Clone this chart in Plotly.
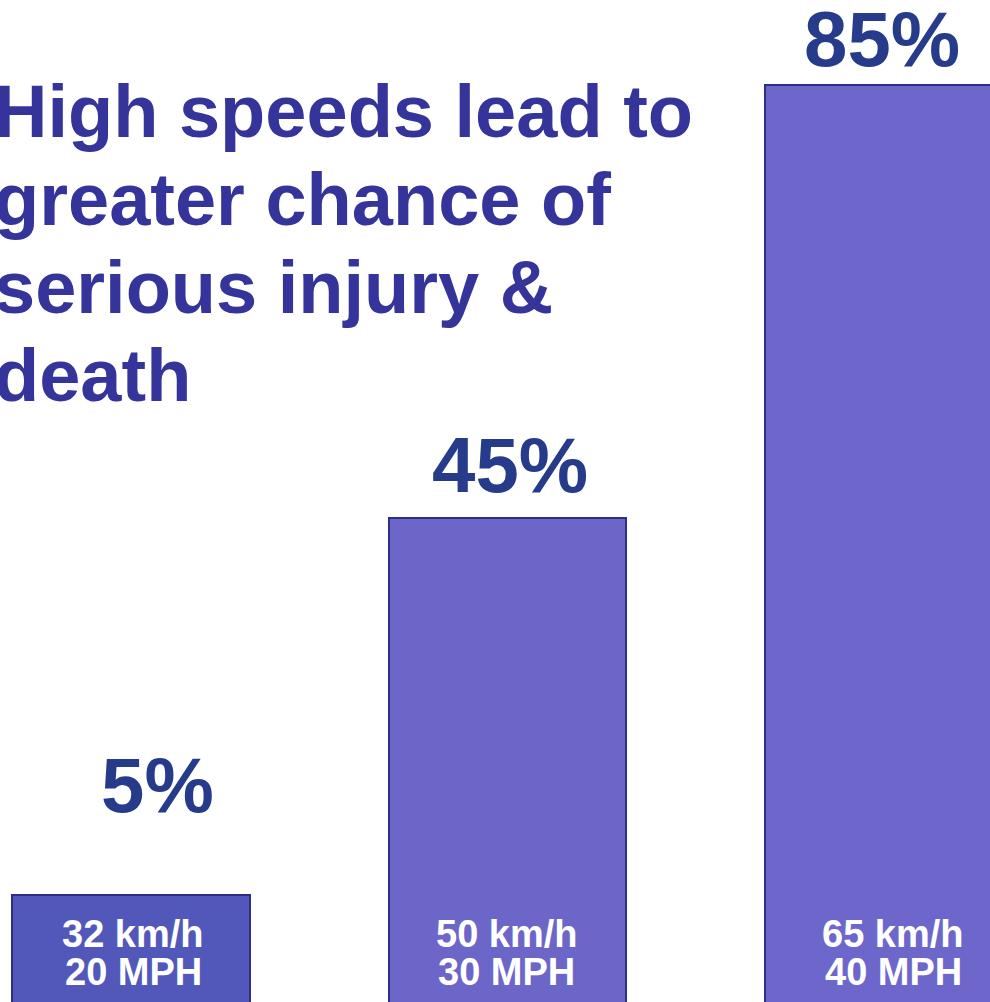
import plotly.graph_objects as go

# ---- data ----
speed_kmh = ["32 km/h", "50 km/h", "65 km/h"]
speed_mph = ["20 MPH", "30 MPH", "40 MPH"]
percent_labels = ["5%", "45%", "85%"]
# drawn bar heights as they appear in the picture (arbitrary units, baseline below frame)
bar_heights = [112, 489, 922]
title_lines = ["High speeds lead to", "greater chance of", "serious injury &", "death"]

# ---- styles ----
bar_colors = ["#5258ba", "#6c66c9", "#6e67cb"]
border_color = "#2c2f88"
title_color = "#35349a"
pct_color = "#273b8b"
font_family = "Liberation Sans, Arial, sans-serif"

x_pos = list(range(len(speed_kmh)))

fig = go.Figure()
fig.add_trace(go.Bar(
    x=x_pos,
    y=bar_heights,
    width=0.632,
    marker=dict(color=bar_colors, line=dict(color=border_color, width=2)),
    hoverinfo="skip",
    showlegend=False,
))

annotations = []
# percentage labels above bars
pct_xshift = [26, 2, -2]
pct_yshift = [64, 7, 0]
for i, (lab, h) in enumerate(zip(percent_labels, bar_heights)):
    annotations.append(dict(
        x=x_pos[i], y=h, xref="x", yref="y", text=f"<b>{lab}</b>",
        showarrow=False, xanchor="center", yanchor="bottom",
        xshift=pct_xshift[i], yshift=pct_yshift[i],
        font=dict(family=font_family, size=78, color=pct_color),
    ))
# speed labels inside bars near the bottom
lab_xshift = [2, -1, 9]
for i in x_pos:
    for txt, yv in ((speed_kmh[i], 73), (speed_mph[i], 35)):
        annotations.append(dict(
            x=x_pos[i], y=yv, xref="x", yref="y", text=f"<b>{txt}</b>",
            showarrow=False, xanchor="center", yanchor="middle",
            xshift=lab_xshift[i],
            font=dict(family=font_family, size=38, color="white"),
        ))
# title lines
title_y = [111, 199, 287, 375]
for line, py in zip(title_lines, title_y):
    annotations.append(dict(
        x=0, y=1 - py / 1002, xref="paper", yref="paper",
        text=f"<b>{line}</b>", showarrow=False,
        xanchor="left", yanchor="middle", xshift=-8,
        font=dict(family=font_family, size=74, color=title_color),
    ))

fig.update_layout(
    width=990, height=1002,
    margin=dict(l=0, r=0, t=0, b=0),
    paper_bgcolor="white", plot_bgcolor="white",
    xaxis=dict(range=[-0.348, 2.2815], visible=False, fixedrange=True),
    yaxis=dict(range=[5, 1007], visible=False, fixedrange=True),
    annotations=annotations,
    bargap=0,
)

fig.write_html(
    "out.html",
    config={"displayModeBar": False},
    post_script="document.body.style.margin='0';document.body.style.overflow='hidden';",
)
